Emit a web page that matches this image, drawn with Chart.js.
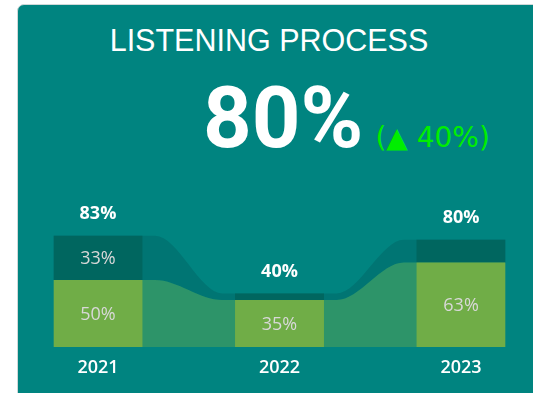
<!DOCTYPE html>
<html>
<head>
<meta charset="utf-8">
<script src="https://cdn.jsdelivr.net/npm/chart.js@4.4.1/dist/chart.umd.min.js"></script>
<style>
  html, body { margin: 0; padding: 0; width: 533px; height: 393px; overflow: hidden; background: #ffffff; }
  .card {
    position: absolute; left: 17px; top: 4px; width: 560px; height: 420px;
    background: #008480; border: 1px solid #cfd8d8; border-radius: 7px;
  }
  .title {
    position: absolute; left: 0; top: 25px; width: 538px; text-align: center;
    font: 30.5px/30px "Liberation Sans", Arial, sans-serif; color: #ffffff; white-space: nowrap;
  }
  .kpi { position: absolute; left: 203px; top: 76px; white-space: nowrap; line-height: 85px; }
  .kpi .big { font: bold 85px/85px Roboto, "Liberation Sans", sans-serif; color: #ffffff; }
  .kpi .delta { font: 28px/28px "DejaVu Sans", sans-serif; color: #00ee00; margin-left: 12px; }
  canvas { position: absolute; left: 0; top: 0; }
</style>
</head>
<body>
<div class="card"></div>
<div class="title">LISTENING PROCESS</div>
<div class="kpi"><span class="big" id="kpiValue"></span><span class="delta" id="kpiDelta"></span></div>
<canvas id="chart" width="533" height="393"></canvas>
<script>
// Yearly listening process, split into two stacked parts (percent)
const years = ['2021', '2022', '2023'];
const completed = [50, 35, 63];
const inProgress = [33, 5, 17];
const totals = completed.map((v, i) => v + inProgress[i]);

// Headline: latest total and change from the previous year
const last = totals.length - 1;
document.getElementById('kpiValue').textContent = totals[last] + '%';
document.getElementById('kpiDelta').textContent = '(\u25B2 ' + (totals[last] - totals[last - 1]) + '%)';

// Share of each year's slot taken by its bar
const BAR_FRACTION = 0.49;
const HALF = BAR_FRACTION / 2;
// How far a ribbon stays level past a bar edge before it bends
const LEVEL_RUN = 0.07;

// Ribbon points: level across each bar (and a little beyond), curving between neighbours
function ribbon(values) {
  const pts = [];
  values.forEach((v, i) => {
    pts.push({ x: i - HALF - LEVEL_RUN, y: v }, { x: i + HALF + LEVEL_RUN, y: v });
  });
  return pts;
}

const FONT = '"Open Sans", "Liberation Sans", sans-serif';

const valueLabels = {
  id: 'valueLabels',
  afterDatasetsDraw(chart) {
    const ctx = chart.ctx;
    ctx.save();
    ctx.textAlign = 'center';
    ctx.textBaseline = 'middle';
    // segment values, only where the segment is tall enough
    [2, 3].forEach(di => {
      const meta = chart.getDatasetMeta(di);
      meta.data.forEach((bar, i) => {
        const v = chart.data.datasets[di].data[i].y;
        if (Math.abs(bar.base - bar.y) < 30) return;
        ctx.font = '18px ' + FONT;
        ctx.fillStyle = '#d8d8d8';
        ctx.fillText(v + '%', bar.x, (bar.y + bar.base) / 2 + 1);
      });
    });
    // stack totals above each bar
    chart.getDatasetMeta(3).data.forEach((bar, i) => {
      ctx.font = 'bold 18px ' + FONT;
      ctx.fillStyle = '#ffffff';
      ctx.fillText(totals[i] + '%', bar.x, bar.y - 22);
    });
    ctx.restore();
  }
};

new Chart(document.getElementById('chart'), {
  type: 'bar',
  data: {
    datasets: [
      {
        type: 'line', label: 'Completed flow', data: ribbon(completed), stack: 'flow',
        fill: 'origin', backgroundColor: 'rgba(112,173,71,0.4)', borderWidth: 0,
        pointRadius: 0, cubicInterpolationMode: 'monotone', order: 2
      },
      {
        type: 'line', label: 'In progress flow', data: ribbon(inProgress), stack: 'flow',
        fill: '-1', backgroundColor: 'rgba(0,96,94,0.4)', borderWidth: 0,
        pointRadius: 0, cubicInterpolationMode: 'monotone', order: 2
      },
      {
        type: 'bar', label: 'Completed', data: completed.map((v, i) => ({ x: i, y: v })),
        backgroundColor: '#70AD47', stack: 'bars', order: 1,
        barPercentage: BAR_FRACTION, categoryPercentage: 1
      },
      {
        type: 'bar', label: 'In progress', data: inProgress.map((v, i) => ({ x: i, y: v })),
        backgroundColor: '#00665f', stack: 'bars', order: 1,
        barPercentage: BAR_FRACTION, categoryPercentage: 1
      }
    ]
  },
  options: {
    responsive: false,
    animation: false,
    layout: { padding: { top: 213, bottom: 4.4, left: 53.5, right: 27.5 } },
    plugins: { legend: { display: false }, tooltip: { enabled: false } },
    scales: {
      x: {
        type: 'linear', min: -HALF, max: years.length - 1 + HALF, offset: false,
        afterBuildTicks: scale => { scale.ticks = years.map((_, i) => ({ value: i })); },
        grid: { display: false, drawTicks: false },
        border: { display: false },
        ticks: {
          padding: 10, color: '#ffffff', font: { family: FONT, size: 18, weight: '600' },
          callback: v => years[v]
        }
      },
      y: { display: false, stacked: true, min: 0, max: 100 }
    }
  },
  plugins: [valueLabels]
});
</script>
</body>
</html>
